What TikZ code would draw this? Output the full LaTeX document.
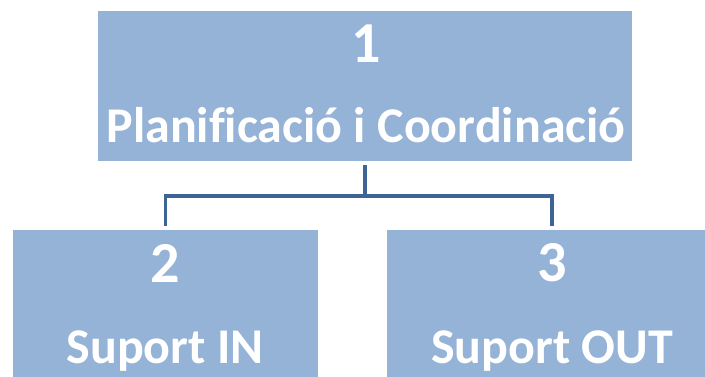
\documentclass[tikz,border=0pt]{standalone}
\usepackage{fontspec}
\setmainfont[Ligatures={NoCommon}]{Carlito}
\definecolor{boxblue}{HTML}{95B3D7}
\definecolor{linkblue}{HTML}{3E6496}
\begin{document}
\begin{tikzpicture}[x=1pt,y=1pt,
  box/.style={rectangle,fill=boxblue,draw=none,inner sep=0pt,anchor=center},
  numtxt/.style={text=white,font=\bfseries\fontsize{58}{58}\selectfont,inner sep=0pt,anchor=base},
  labtxt/.style={text=white,font=\bfseries\fontsize{50}{50}\selectfont,inner sep=0pt,anchor=base},
  conn/.style={draw=linkblue,line width=3.2pt}]
\useasboundingbox (0,0) rectangle (705,376);
\clip (0,0) rectangle (705,376);
\node[box,minimum width=534pt,minimum height=150pt] (b1) at (365,290) {};
\node[box,minimum width=305pt,minimum height=150pt] (b2) at (165.5,71) {};
\node[box,minimum width=330pt,minimum height=150pt] (b3) at (552,71) {};
\node[numtxt] (n1) at (366,314) {1};
\node[labtxt] (t1) at (366,234) {Planificació i Coordinació};
\node[numtxt] (n2) at (165,94) {2};
\node[labtxt] (t2) at (165,13) {Suport IN};
\node[numtxt] (n3) at (552,95) {3};
\node[labtxt] (t3) at (552,13) {Suport OUT};
\coordinate (j) at (365,180);
\draw[conn] ([yshift=-4pt]b1.south) -- (j) -| ([yshift=4pt]b2.north);
\draw[conn] (j) -| ([yshift=4pt]b3.north);
\end{tikzpicture}
\end{document}
